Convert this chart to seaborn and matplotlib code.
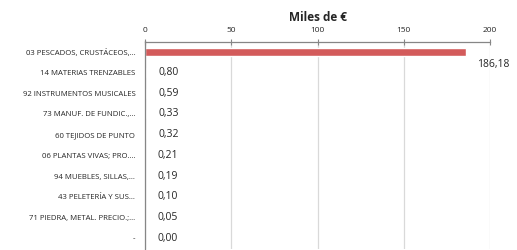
import pandas as pd
import matplotlib.pyplot as plt
import matplotlib.ticker as ticker
import seaborn as sns

sns.set_style("white")
plt.rcParams['font.family'] = ['Open Sans', 'DejaVu Sans']

categories = ['03 PESCADOS, CRUSTÁCEOS,...', '14 MATERIAS TRENZABLES',
              '92 INSTRUMENTOS MUSICALES', '73 MANUF. DE FUNDIC.,...',
              '60 TEJIDOS DE PUNTO', '06 PLANTAS VIVAS; PRO....',
              '94 MUEBLES, SILLAS,...', '43 PELETERÍA Y SUS...',
              '71 PIEDRA, METAL. PRECIO.;...', '-']
values = [186.18, 0.80, 0.59, 0.33, 0.32, 0.21, 0.19, 0.10, 0.05, 0.00]
labels = ['186,18', '0,80', '0,59', '0,33', '0,32', '0,21', '0,19', '0,10', '0,05', '0,00']

df = pd.DataFrame({'cat': categories, 'val': values})

fig = plt.figure(figsize=(5.17, 2.5), dpi=100)
ax = fig.add_axes([0.2805, 0.006, 0.6675, 0.828])

sns.barplot(data=df, y='cat', x='val', color='#d35b5b', width=0.42,
            saturation=1, ax=ax, zorder=3)

ax.set_xlim(0, 200)
ax.set_ylim(len(categories) - 0.5, -0.5)
ax.xaxis.set_major_locator(ticker.MultipleLocator(50))
ax.xaxis.tick_top()
ax.xaxis.set_label_position('top')
ax.set_xlabel('Miles de €', fontsize=8.5, fontweight='bold', labelpad=4)
ax.set_ylabel('')
ax.tick_params(axis='x', direction='inout', length=5, width=0.8, color='#868686',
               labelsize=6, pad=3)
ax.tick_params(axis='y', length=0, labelsize=5.6, pad=7)
ax.yaxis.set_minor_locator(ticker.FixedLocator([i + 0.5 for i in range(-1, len(categories))]))
ax.tick_params(axis='y', which='minor', length=3, width=0.8, color='#868686', direction='out')

ax.grid(axis='x', color='#d9d9d9', linewidth=0.9, zorder=0)
ax.set_axisbelow(True)
for side in ['right', 'bottom']:
    ax.spines[side].set_visible(False)
for side in ['left', 'top']:
    ax.spines[side].set_color('#868686')
    ax.spines[side].set_linewidth(0.9)
    ax.spines[side].set_zorder(5)

for i, (v, lab) in enumerate(zip(values, labels)):
    if v > 100:
        ax.annotate(lab, (v, i), xytext=(8, -9), textcoords='offset points',
                    fontsize=7.5, va='center', ha='left')
    else:
        ax.annotate(lab, (v, i), xytext=(9, 0), textcoords='offset points',
                    fontsize=7.5, va='center', ha='left')

fig.savefig('out.png', dpi=100)
